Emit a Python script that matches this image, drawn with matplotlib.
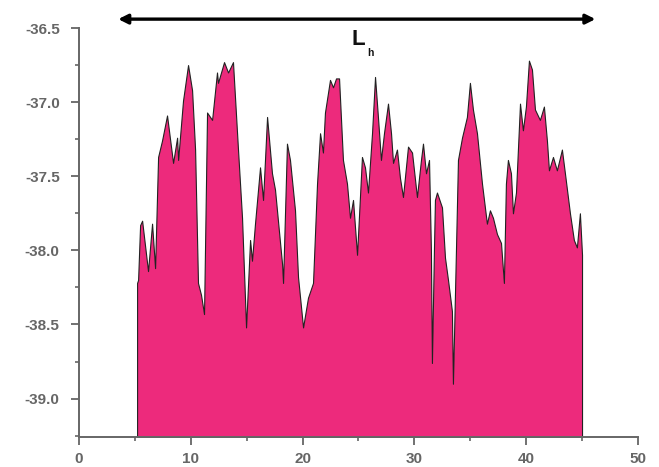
import matplotlib.pyplot as plt
import numpy as np
from matplotlib.ticker import MultipleLocator

# profile (position, height)
pos = [5.19, 5.28, 5.46, 5.64, 6.17, 6.53, 6.80, 7.07, 7.42, 7.87, 8.41, 8.77, 8.86,
       9.30, 9.75, 10.11, 10.38, 10.64, 10.91, 11.18, 11.45, 11.90, 12.34, 12.43, 12.97,
       13.33, 13.77, 14.22, 14.58, 14.94, 15.30, 15.47, 15.74, 16.19, 16.46, 16.82, 17.26,
       17.53, 18.16, 18.25, 18.60, 18.87, 19.32, 19.59, 20.04, 20.48, 20.93, 21.29, 21.56,
       21.82, 22.00, 22.45, 22.72, 22.99, 23.26, 23.61, 23.97, 24.24, 24.51, 24.87, 25.31,
       25.58, 25.85, 26.21, 26.48, 26.74, 27.01, 27.28, 27.64, 27.91, 28.09, 28.44, 28.71,
       28.98, 29.43, 29.79, 30.23, 30.59, 30.77, 31.04, 31.31, 31.48, 31.57, 31.75, 31.84,
       32.02, 32.47, 32.74, 33.01, 33.36, 33.45, 33.72, 33.90, 34.26, 34.70, 34.97, 35.24,
       35.60, 36.05, 36.49, 36.76, 37.03, 37.39, 37.75, 38.01, 38.19, 38.37, 38.64, 38.82,
       39.09, 39.45, 39.71, 39.98, 40.25, 40.52, 40.79, 41.23, 41.59, 41.86, 42.04, 42.40,
       42.75, 43.20, 43.47, 43.92, 44.27, 44.54, 44.81, 45.00]
height = [-38.22, -38.20, -37.83, -37.80, -38.14, -37.82, -38.12, -37.37, -37.26, -37.09,
          -37.41, -37.24, -37.39, -36.99, -36.75, -36.92, -37.32, -38.22, -38.30, -38.43,
          -37.07, -37.12, -36.80, -36.87, -36.73, -36.80, -36.73, -37.32, -37.78, -38.52,
          -37.93, -38.07, -37.82, -37.44, -37.66, -37.10, -37.48, -37.59, -38.09, -38.22,
          -37.28, -37.39, -37.73, -38.18, -38.52, -38.32, -38.22, -37.55, -37.21, -37.34,
          -37.07, -36.85, -36.90, -36.84, -36.84, -37.39, -37.55, -37.78, -37.66, -38.03,
          -37.37, -37.44, -37.61, -37.21, -36.83, -37.10, -37.39, -37.21, -37.01, -37.21,
          -37.41, -37.32, -37.51, -37.64, -37.30, -37.34, -37.64, -37.39, -37.28, -37.48,
          -37.39, -38.00, -38.76, -38.00, -37.66, -37.61, -37.71, -38.05, -38.20, -38.41,
          -38.90, -38.00, -37.39, -37.24, -37.10, -36.87, -37.05, -37.21, -37.55, -37.82,
          -37.73, -37.78, -37.89, -37.95, -38.22, -37.55, -37.39, -37.48, -37.75, -37.61,
          -37.01, -37.19, -37.03, -36.72, -36.78, -37.05, -37.12, -37.03, -37.26, -37.46,
          -37.37, -37.46, -37.32, -37.48, -37.75, -37.93, -37.98, -37.75, -38.03]

arrow_span = [3.5, 46.2]

plt.rcParams['font.family'] = ['Liberation Sans', 'DejaVu Sans']
fig = plt.figure(figsize=(6.59, 4.67), dpi=100)
ax = fig.add_axes([0.12, 0.064, 0.848, 0.876])

ymin, ymax = -39.26, -36.5
ax.set_xlim(0, 50)
ax.set_ylim(ymin, ymax)

ax.fill_between(pos, height, ymin, facecolor='#ed2a7c', edgecolor='#222222', linewidth=0.8)

grey = '#666666'
for s in ['top', 'right']:
    ax.spines[s].set_visible(False)
for s in ['left', 'bottom']:
    ax.spines[s].set_color(grey)
    ax.spines[s].set_linewidth(1.4)

ax.xaxis.set_major_locator(MultipleLocator(10))
ax.xaxis.set_minor_locator(MultipleLocator(5))
ax.yaxis.set_major_locator(MultipleLocator(0.5))
ax.yaxis.set_minor_locator(MultipleLocator(0.25))
ax.yaxis.set_major_formatter(plt.FormatStrFormatter('%.1f'))
ax.tick_params(which='major', length=6, width=1.3, color=grey, labelcolor=grey, labelsize=11)
ax.tick_params(which='minor', length=3, width=1.2, color=grey)
ax.tick_params(axis='y', pad=8)
ax.tick_params(axis='x', pad=5)
for t in ax.get_xticklabels() + ax.get_yticklabels():
    t.set_fontweight('bold')

ax.annotate('', xy=(arrow_span[1], -36.44), xytext=(arrow_span[0], -36.44),
            arrowprops=dict(arrowstyle='<|-|>', color='black', lw=2.4,
                            mutation_scale=14, shrinkA=0, shrinkB=0),
            annotation_clip=False)
# L with a small, low subscript h
ax.text(25.0, -36.575, 'L', fontsize=16, fontweight='bold', ha='center', va='center', color='#111111')
ax.text(26.05, -36.67, 'h', fontsize=7.5, fontweight='bold', ha='center', va='center', color='#111111')

fig.savefig('out.png', dpi=100)
